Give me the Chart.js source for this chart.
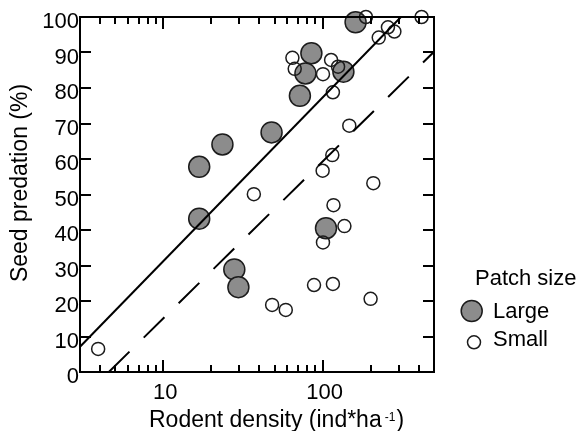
<!DOCTYPE html>
<html>
<head>
<meta charset="utf-8">
<script src="https://cdn.jsdelivr.net/npm/chart.js@4.4.1/dist/chart.umd.min.js"></script>
<style>
  html, body { margin: 0; padding: 0; background: #fff; }
  #wrap { width: 585px; height: 431px; }
</style>
</head>
<body>
<div id="wrap"><canvas id="c" width="585" height="431"></canvas></div>
<script>
// ---- data ----
const largeX = [16.8, 16.8, 23.5, 27.9, 29.6, 47.8, 72, 78, 85, 105, 135, 161];
const largeY = [57.8, 43.2, 64.1, 28.9, 23.9, 67.5, 77.8, 84.1, 89.8, 40.5, 84.6, 98.5];

const smallX = [3.9, 37, 48.2, 58.7, 64.6, 66.8, 100.5, 113, 125, 116, 147, 115, 100, 208, 117, 137, 100.5, 88.3, 116, 200, 225, 257, 282, 187, 418];
const smallY = [6.5, 50.1, 18.9, 17.5, 88.5, 85.4, 83.9, 87.9, 86, 78.8, 69.4, 61.1, 56.7, 53.2, 47, 41.1, 36.5, 24.5, 24.8, 20.6, 94.2, 97.1, 95.9, 100, 100];

// fitted lines (end points)
const largeFitX = [3, 310];
const largeFitY = [7.1, 100];
const smallFitX = [4.55, 500];
const smallFitY = [0, 90.2];

// axes
const xMin = 3, xMax = 500;
const xTickValues = [4, 5, 6, 7, 8, 9, 10, 20, 30, 40, 50, 60, 70, 80, 90, 100, 200, 300, 400];
const xMajorValues = [10, 100];
const xTickLabels = ['10', '100'];
const yTickValues = [0, 10, 20, 30, 40, 50, 60, 70, 80, 90, 100];

const categories = ['Large', 'Small'];
const legendTitle = 'Patch size';
const xTitle = 'Rodent density (ind*ha';
const xTitleSup = '-1';
const xTitleEnd = ')';
const yTitle = 'Seed predation (%)';

const FONT = '"Liberation Sans", Arial, Helvetica, sans-serif';
const GRAY = '#8c8c8c';
const EDGE = '#1c1c1c';

const toPts = (xs, ys) => xs.map((v, i) => ({ x: v, y: ys[i] }));

const framePlugin = {
  id: 'frame',
  afterDatasetsDraw(chart) {
    const { ctx, chartArea: a, scales } = chart;
    const xs = scales.x, ys = scales.y;
    ctx.save();
    ctx.strokeStyle = '#000';
    ctx.lineWidth = 2;
    ctx.lineCap = 'butt';
    ctx.strokeRect(a.left, a.top, a.right - a.left, a.bottom - a.top);
    ctx.beginPath();
    yTickValues.forEach(v => {
      if (v <= 0 || v >= 100) return;
      const py = Math.round(ys.getPixelForValue(v));
      ctx.moveTo(a.left, py); ctx.lineTo(a.left + 11, py);
      ctx.moveTo(a.right, py); ctx.lineTo(a.right - 11, py);
    });
    xTickValues.forEach(v => {
      const px = Math.round(xs.getPixelForValue(v));
      const len = xMajorValues.includes(v) ? 12 : 7;
      ctx.moveTo(px, a.bottom); ctx.lineTo(px, a.bottom - len);
      ctx.moveTo(px, a.top); ctx.lineTo(px, a.top + len);
    });
    ctx.stroke();
    ctx.restore();
  },
  afterDraw(chart) {
    const { ctx } = chart;
    ctx.save();
    ctx.fillStyle = '#000';
    // x title
    ctx.textBaseline = 'alphabetic';
    ctx.textAlign = 'left';
    ctx.font = '23px ' + FONT;
    const tx = 149, tb = 426.5;
    ctx.fillText(xTitle, tx, tb);
    const w = ctx.measureText(xTitle).width;
    ctx.font = '12px ' + FONT;
    const sx = tx + w + 3;
    ctx.fillText(xTitleSup, sx, tb - 6);
    const ws = ctx.measureText(xTitleSup).width;
    ctx.font = '23px ' + FONT;
    ctx.fillText(xTitleEnd, sx + ws + 1, tb);
    // y title
    ctx.save();
    ctx.translate(27, 183);
    ctx.rotate(-Math.PI / 2);
    ctx.textAlign = 'center';
    ctx.font = '23px ' + FONT;
    ctx.fillText(yTitle, 0, 0);
    ctx.restore();
    // legend
    ctx.font = '22px ' + FONT;
    ctx.textAlign = 'left';
    ctx.fillText(legendTitle, 475, 285);
    ctx.lineWidth = 1.5;
    ctx.strokeStyle = EDGE;
    ctx.beginPath();
    ctx.arc(471.7, 311, 10.5, 0, Math.PI * 2);
    ctx.fillStyle = GRAY; ctx.fill(); ctx.stroke();
    ctx.beginPath();
    ctx.arc(474, 342.3, 6.5, 0, Math.PI * 2);
    ctx.fillStyle = '#fff'; ctx.fill(); ctx.stroke();
    ctx.fillStyle = '#000';
    ctx.fillText(categories[0], 493, 317.7);
    ctx.fillText(categories[1], 493, 345.7);
    ctx.restore();
  }
};

new Chart(document.getElementById('c'), {
  type: 'scatter',
  data: {
    datasets: [
      {
        label: 'fit large', data: toPts(largeFitX, largeFitY), showLine: true,
        borderColor: '#000', borderWidth: 2, pointRadius: 0, pointHoverRadius: 0, fill: false
      },
      {
        label: 'fit small', data: toPts(smallFitX, smallFitY), showLine: true,
        borderColor: '#000', borderWidth: 2, borderDash: [29, 20], pointRadius: 0, pointHoverRadius: 0, fill: false
      },
      {
        label: categories[1], data: toPts(smallX, smallY),
        pointRadius: 6.5, pointHoverRadius: 6.5, pointBackgroundColor: 'rgba(255,255,255,0)',
        pointBorderColor: EDGE, pointBorderWidth: 1.5, clip: false
      },
      {
        label: categories[0], data: toPts(largeX, largeY),
        pointRadius: 10.5, pointHoverRadius: 10.5, pointBackgroundColor: GRAY,
        pointBorderColor: EDGE, pointBorderWidth: 1.5, clip: false
      }
    ]
  },
  options: {
    responsive: false,
    animation: false,
    events: [],
    layout: { padding: { left: 0, top: 17, right: 151, bottom: 0 } },
    plugins: { legend: { display: false }, tooltip: { enabled: false } },
    scales: {
      x: {
        type: 'logarithmic',
        min: xMin, max: xMax,
        border: { display: false },
        grid: { display: false, drawTicks: false },
        afterBuildTicks: s => { s.ticks = xTickValues.map(v => ({ value: v, major: xMajorValues.includes(v) })); },
        afterFit: s => { s.height = 59; },
        ticks: {
          autoSkip: false, maxRotation: 0, minRotation: 0,
          padding: 8, labelOffset: 2, color: '#000',
          font: { family: FONT, size: 22 },
          callback: v => { const i = xMajorValues.indexOf(v); return i >= 0 ? xTickLabels[i] : ''; }
        }
      },
      y: {
        type: 'linear',
        min: 0, max: 100,
        border: { display: false },
        grid: { display: false, drawTicks: false },
        afterBuildTicks: s => { s.ticks = yTickValues.map(v => ({ value: v })); },
        afterFit: s => { s.width = 80; },
        ticks: {
          autoSkip: false, padding: 1, labelOffset: 5, color: '#000',
          font: { family: FONT, size: 22 }
        }
      }
    }
  },
  plugins: [framePlugin]
});
</script>
</body>
</html>
